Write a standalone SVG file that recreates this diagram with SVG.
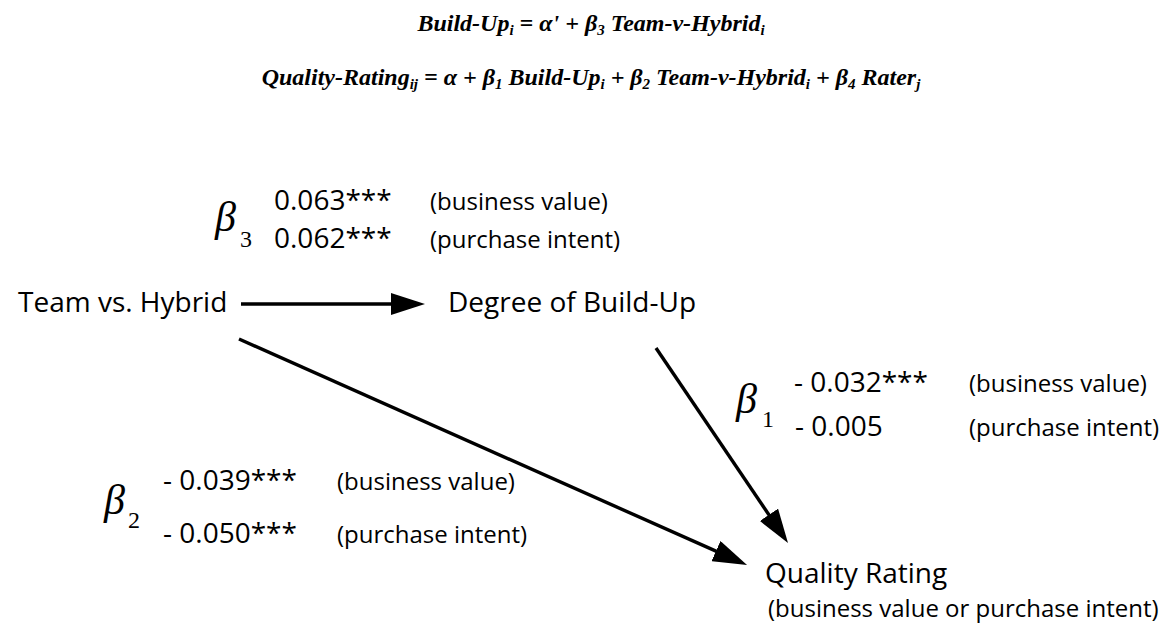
<svg xmlns="http://www.w3.org/2000/svg" width="1171" height="626" viewBox="0 0 1171 626">
<style>
.eq{font-family:"Liberation Serif","Times New Roman",serif;font-weight:bold;font-style:italic;font-size:24px;fill:#000}
.sub{font-size:15px}
.node{font-family:"Open Sans","Noto Sans",sans-serif;font-size:28px;fill:#000}
.coef{font-family:"Open Sans","Noto Sans",sans-serif;font-size:28px;fill:#000}
.lab{font-family:"Open Sans","Noto Sans",sans-serif;font-size:24px;fill:#000}
.beta{font-family:"Liberation Serif","Times New Roman",serif;font-style:italic;font-size:42px;fill:#000}
.bsub{font-family:"Liberation Serif","Times New Roman",serif;font-size:24px;fill:#000}
.conn{stroke:#000;stroke-width:3.4;fill:none;marker-end:url(#ah)}
</style>
<defs>
<marker id="ah" viewBox="0 0 34 22" refX="24" refY="11" markerWidth="34" markerHeight="22" markerUnits="userSpaceOnUse" orient="auto">
<path d="M0,0 L34,11 L0,22 Z" fill="#000"/>
</marker>
</defs>
<rect width="1171" height="626" fill="#fff"/>
<g id="equations">
<text class="eq" x="591" y="31" text-anchor="middle">Build-Up<tspan class="sub" dy="4">i</tspan><tspan dy="-4"> = α' + β</tspan><tspan class="sub" dy="4">3</tspan><tspan dy="-4"> Team-v-Hybrid</tspan><tspan class="sub" dy="4">i</tspan></text>
<text class="eq" x="591" y="85" text-anchor="middle">Quality-Rating<tspan class="sub" dy="4">ij</tspan><tspan dy="-4"> = α + β</tspan><tspan class="sub" dy="4">1</tspan><tspan dy="-4"> Build-Up</tspan><tspan class="sub" dy="4">i</tspan><tspan dy="-4"> + β</tspan><tspan class="sub" dy="4">2</tspan><tspan dy="-4"> Team-v-Hybrid</tspan><tspan class="sub" dy="4">i</tspan><tspan dy="-4"> + β</tspan><tspan class="sub" dy="4">4</tspan><tspan dy="-4"> Rater</tspan><tspan class="sub" dy="4">j</tspan></text>
</g>
<g id="connectors">
<line class="conn" x1="241" y1="304" x2="415" y2="304"/>
<line class="conn" x1="239" y1="339" x2="737.9" y2="560.9"/>
<line class="conn" x1="656" y1="348" x2="782.4" y2="534.7"/>
</g>
<g id="node-team">
<text class="node" x="18" y="312">Team vs. Hybrid</text>
</g>
<g id="node-buildup">
<text class="node" x="448" y="312">Degree of Build-Up</text>
</g>
<g id="node-quality">
<text class="node" x="765" y="583">Quality Rating</text>
<text class="lab" x="768" y="617">(business value or purchase intent)</text>
</g>
<g id="label-beta3">
<text class="beta" x="215" y="231">β</text>
<text class="bsub" x="240" y="247">3</text>
<text class="coef" x="274" y="210">0.063***</text>
<text class="coef" x="274" y="248">0.062***</text>
<text class="lab" x="430" y="210">(business value)</text>
<text class="lab" x="430" y="248">(purchase intent)</text>
</g>
<g id="label-beta1">
<text class="beta" x="736" y="413">β</text>
<text class="bsub" x="762" y="427">1</text>
<text class="coef" x="794" y="392">- 0.032***</text>
<text class="coef" x="795" y="436">- 0.005</text>
<text class="lab" x="969" y="392">(business value)</text>
<text class="lab" x="969" y="436">(purchase intent)</text>
</g>
<g id="label-beta2">
<text class="beta" x="104" y="514">β</text>
<text class="bsub" x="128" y="528">2</text>
<text class="coef" x="163" y="490">- 0.039***</text>
<text class="coef" x="163" y="543">- 0.050***</text>
<text class="lab" x="337" y="490">(business value)</text>
<text class="lab" x="337" y="543">(purchase intent)</text>
</g>
</svg>
